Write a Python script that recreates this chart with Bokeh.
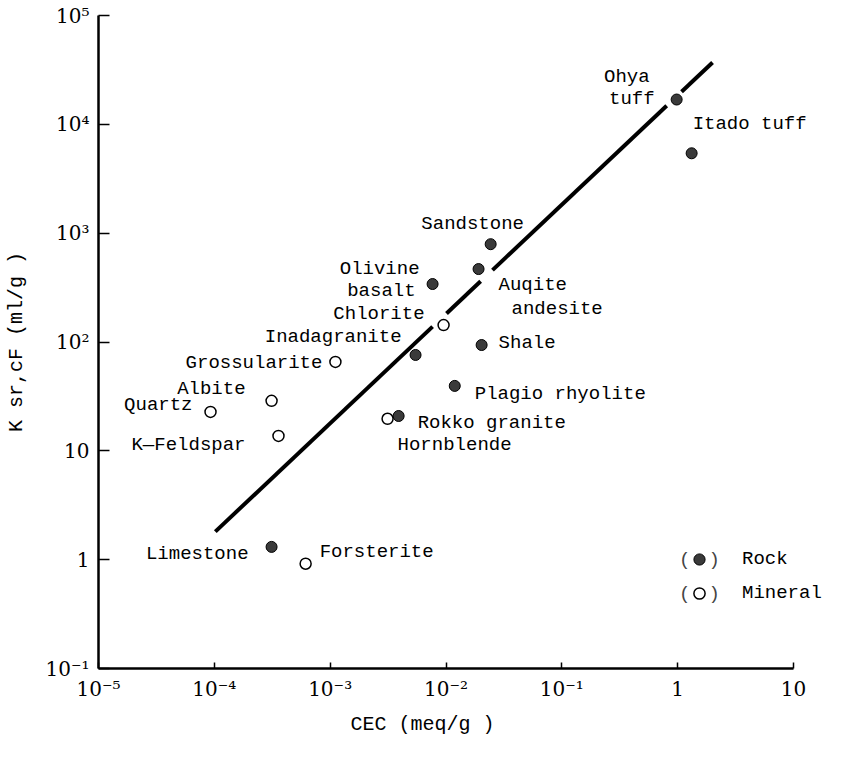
import math
from bokeh.plotting import figure
from bokeh.models import (ColumnDataSource, LabelSet, Label, FixedTicker, Legend,
                          LegendItem, Range1d, Title)
from bokeh.core.properties import value
from bokeh.embed import file_html
from bokeh.resources import INLINE

# ---------------- data ----------------
rock_names = ["Ohya tuff", "Itado tuff", "Sandstone", "Auqite andesite", "Olivine basalt",
              "Shale", "Inadagranite", "Plagio rhyolite", "Rokko granite", "Limestone"]
rock_cec = [0.98, 1.32, 0.0243, 0.0191, 0.00766, 0.0203, 0.00546, 0.0119, 0.0039, 3.12e-4]
rock_k = [1.69e4, 5420, 792, 468, 341, 93.8, 76, 39.5, 20.9, 1.31]

mineral_names = ["Chlorite", "Grossularite", "Albite", "Quartz", "K\u2014Feldspar",
                 "Hornblende", "Forsterite"]
mineral_cec = [0.00953, 1.11e-3, 3.12e-4, 9.27e-5, 3.58e-4, 3.13e-3, 6.14e-4]
mineral_k = [143, 65.6, 28.8, 22.8, 13.7, 19.7, 0.918]

# fitted line (end points) and the breaks drawn in it
fit_cec = [1.02e-4, 2.0]
fit_k = [1.81, 3.7e4]
fit_gaps = [(0.00766, 0.0101), (0.0199, 0.0252), (0.804, 1.08)]

x_ticks = [1e-5, 1e-4, 1e-3, 1e-2, 1e-1, 1, 10]
x_tick_labels = ["10\u207b\u2075", "10\u207b\u2074", "10\u207b\u00b3", "10\u207b\u00b2",
                 "10\u207b\u00b9", "1", "10"]
y_ticks = [1e-1, 1, 10, 1e2, 1e3, 1e4, 1e5]
y_tick_labels = ["10\u207b\u00b9", "1", "10", "10\u00b2", "10\u00b3", "10\u2074", "10\u2075"]

x_title = "CEC (meq/g )"
y_title = "K sr,cF (ml/g )"

# label layout: (point name, text, dx px, dy px (up), align)
label_layout = [
    ("Ohya tuff", "Ohya", -27, 23, "right"),
    ("Ohya tuff", "tuff", -22, 1, "right"),
    ("Itado tuff", "Itado tuff", 1, 29, "left"),
    ("Sandstone", "Sandstone", -18, 20, "center"),
    ("Auqite andesite", "Auqite", 20, -16, "left"),
    ("Auqite andesite", "andesite", 33, -40, "left"),
    ("Olivine basalt", "Olivine", -13, 15, "right"),
    ("Olivine basalt", "basalt", -17, -7, "right"),
    ("Shale", "Shale", 17, 2, "left"),
    ("Inadagranite", "Inadagranite", -14, 18, "right"),
    ("Plagio rhyolite", "Plagio rhyolite", 20, -8, "left"),
    ("Rokko granite", "Rokko granite", 19, -7, "left"),
    ("Limestone", "Limestone", -23, -7, "right"),
    ("Chlorite", "Chlorite", -19, 11, "right"),
    ("Grossularite", "Grossularite", -13, -1, "right"),
    ("Albite", "Albite", -26, 12, "right"),
    ("Quartz", "Quartz", -18, 7, "right"),
    ("K\u2014Feldspar", "K\u2014Feldspar", -33, -9, "right"),
    ("Hornblende", "Hornblende", 10, -26, "left"),
    ("Forsterite", "Forsterite", 14, 12, "left"),
]

FONT = "Liberation Mono"
TICK_FONT = "DejaVu Serif"

# ---------------- layout ----------------
W, H = 840, 742
LEFT, RIGHT, TOP, BOTTOM = 98, 2, 15, 73
AXIS_X_PX = 695          # pixel length of the drawn x axis (1e-5 .. 10)
frame_w = W - LEFT - RIGHT
x_end = 10 ** (-5 + 6 * frame_w / AXIS_X_PX)   # frame extends right of the axis for labels

p = figure(width=W, height=H, x_axis_type="log", y_axis_type="log",
           x_range=Range1d(1e-5, x_end), y_range=Range1d(0.1, 1e5),
           output_backend="svg", toolbar_location=None,
           min_border_left=LEFT, min_border_right=RIGHT,
           min_border_top=TOP, min_border_bottom=BOTTOM)
p.xgrid.visible = False
p.ygrid.visible = False
p.outline_line_color = None

# fitted line, with its breaks
def fit_at(x):
    lx0, lx1 = math.log10(fit_cec[0]), math.log10(fit_cec[1])
    ly0, ly1 = math.log10(fit_k[0]), math.log10(fit_k[1])
    t = (math.log10(x) - lx0) / (lx1 - lx0)
    return 10 ** (ly0 + t * (ly1 - ly0))

bounds = [fit_cec[0]] + [v for g in fit_gaps for v in g] + [fit_cec[1]]
seg_xs = [[bounds[i], bounds[i + 1]] for i in range(0, len(bounds), 2)]
seg_ys = [[fit_at(a), fit_at(b)] for a, b in seg_xs]
p.multi_line(seg_xs, seg_ys, line_width=4, line_color="black")

r_rock = p.scatter(rock_cec, rock_k, size=11, marker="circle", fill_color="#3a3a3a",
                   line_color="black", line_width=1)
r_min = p.scatter(mineral_cec, mineral_k, size=11, marker="circle", fill_color="white",
                  line_color="black", line_width=1.5)

# point labels
pts = {n: (x, y) for n, x, y in zip(rock_names, rock_cec, rock_k)}
pts.update({n: (x, y) for n, x, y in zip(mineral_names, mineral_cec, mineral_k)})
for align in ("left", "right", "center"):
    rows = [r for r in label_layout if r[4] == align]
    src = ColumnDataSource(dict(
        x=[pts[r[0]][0] for r in rows], y=[pts[r[0]][1] for r in rows],
        text=[r[1] for r in rows], dx=[r[2] for r in rows], dy=[r[3] for r in rows]))
    p.add_layout(LabelSet(x="x", y="y", text="text", x_offset="dx", y_offset="dy",
                          source=src, text_align=value(align),
                          text_baseline=value("middle"),
                          text_font=value(FONT), text_font_size=value("19px"),
                          text_color=value("black")))

# axes
for ax, ticks, labels in ((p.xaxis[0], x_ticks, x_tick_labels),
                          (p.yaxis[0], y_ticks, y_tick_labels)):
    ax.ticker = FixedTicker(ticks=ticks, minor_ticks=[])
    ax.major_label_overrides = {t: l for t, l in zip(ticks, labels)}
    ax.bounds = (ticks[0], ticks[-1])
    ax.axis_line_width = 2.5
    ax.axis_line_color = "black"
    ax.major_tick_line_width = 1.5
    ax.major_tick_out = 0
    ax.minor_tick_line_color = None
    ax.major_label_text_font = TICK_FONT
    ax.major_label_text_font_size = "20px"
    ax.major_label_text_color = "black"
    ax.axis_label_text_font = FONT
    ax.axis_label_text_font_size = "20px"
    ax.axis_label_text_font_style = "normal"
    ax.axis_label_text_color = "black"

p.xaxis.major_tick_in = 6
p.yaxis.major_tick_in = 11
p.xaxis.major_label_standoff = 8
p.yaxis.major_label_standoff = 9
p.yaxis.axis_label = y_title
p.yaxis.axis_label_standoff = 14

# x-axis title, centred under the drawn axis (the frame runs past it on the right)
p.add_layout(Title(text=x_title, align="left", offset=252, standoff=14,
                   text_font=FONT, text_font_size="20px", text_font_style="normal",
                   text_color="black"), "below")

# legend
legend = Legend(items=[LegendItem(label="Rock", renderers=[r_rock]),
                       LegendItem(label="Mineral", renderers=[r_min])],
                location=(587, 61), orientation="vertical",
                glyph_width=28, glyph_height=28, label_standoff=29, spacing=6,
                padding=0, margin=0, border_line_color=None,
                background_fill_alpha=0, label_text_font=FONT,
                label_text_font_size="19px", label_text_color="black")
p.add_layout(legend)
for yy in (109, 75):
    p.add_layout(Label(x=592, y=yy, x_units="screen", y_units="screen", text="(",
                       text_align="right", text_baseline="middle", text_font=FONT,
                       text_font_size="19px"))
    p.add_layout(Label(x=610, y=yy, x_units="screen", y_units="screen", text=")",
                       text_align="left", text_baseline="middle", text_font=FONT,
                       text_font_size="19px"))

open("out.html", "w").write(file_html(p, INLINE))
